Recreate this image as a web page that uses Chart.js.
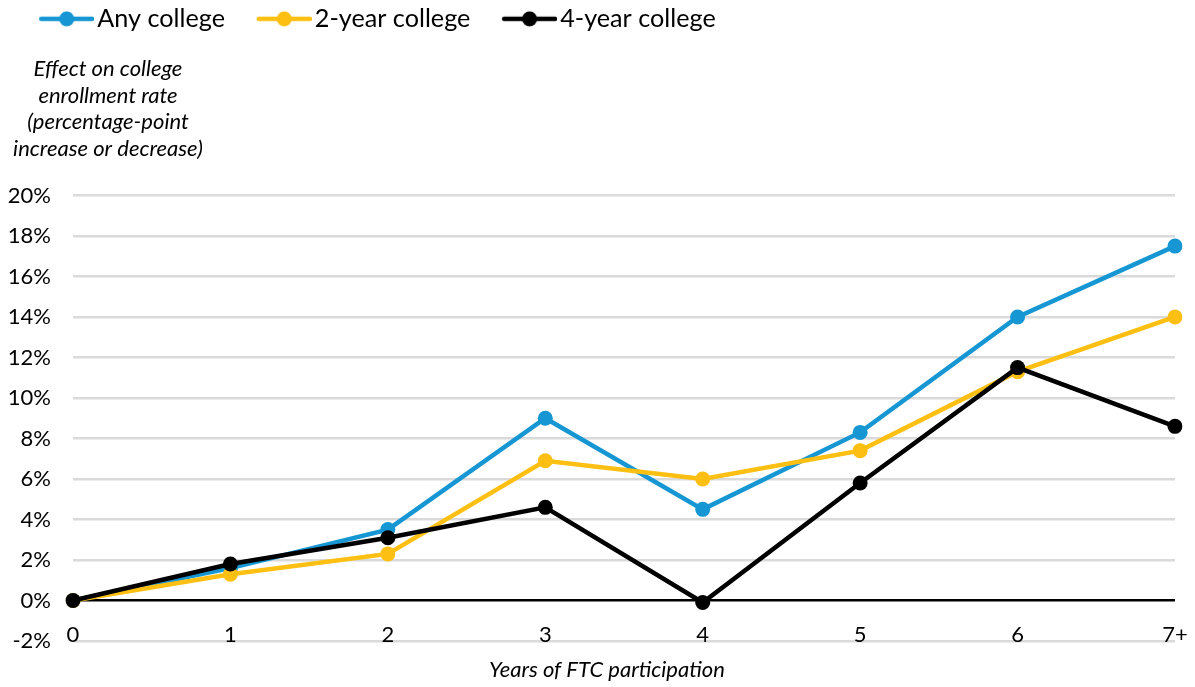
<!DOCTYPE html>
<html>
<head>
<meta charset="utf-8">
<script src="https://cdn.jsdelivr.net/npm/chart.js@4/dist/chart.umd.min.js"></script>
<style>
  html, body { margin: 0; padding: 0; background: #fff; }
  #wrap { width: 1195px; height: 687px; position: relative; }
</style>
</head>
<body>
<div id="wrap"><canvas id="c"></canvas></div>
<script>
const categories = ['0', '1', '2', '3', '4', '5', '6', '7+'];
const anyCollege = [0, 1.6, 3.5, 9.0, 4.5, 8.3, 14.0, 17.5];
const twoYear = [0, 1.3, 2.3, 6.9, 6.0, 7.4, 11.3, 14.0];
const fourYear = [0, 1.8, 3.1, 4.6, -0.1, 5.8, 11.5, 8.6];
const seriesNames = ['Any college', '2-year college', '4-year college'];
const seriesColors = ['#1696d2', '#fdbf11', '#000000'];
const yTicks = [-2, 0, 2, 4, 6, 8, 10, 12, 14, 16, 18, 20];
const yTitleLines = ['Effect on college', 'enrollment rate', '(percentage-point', 'increase or decrease)'];
const xTitle = 'Years of FTC participation';

const FONT = 'Lato, "Open Sans", sans-serif';

function legendIcon(color) {
  const c = document.createElement('canvas');
  const leftT = 35, lineLen = 55;
  c.width = leftT + lineLen; c.height = 18;
  const g = c.getContext('2d');
  g.strokeStyle = color; g.lineWidth = 4.5; g.lineCap = 'round';
  g.beginPath(); g.moveTo(leftT + 2, 9); g.lineTo(leftT + lineLen - 2, 9); g.stroke();
  g.fillStyle = color;
  g.beginPath(); g.arc(leftT + lineLen / 2, 9, 7.5, 0, Math.PI * 2); g.fill();
  return c;
}
const icons = seriesColors.map(legendIcon);

const titlesPlugin = {
  id: 'axisTitles',
  afterDraw(chart) {
    const ctx = chart.ctx;
    ctx.save();
    ctx.fillStyle = '#000';
    ctx.textAlign = 'center';
    ctx.textBaseline = 'alphabetic';
    ctx.font = 'italic 22px ' + FONT;
    yTitleLines.forEach((t, i) => ctx.fillText(t, 108, 76 + i * 26.5));
    ctx.fillText(xTitle, 607, 677);
    ctx.restore();
  }
};

const datasets = [anyCollege, twoYear, fourYear].map((d, i) => ({
  label: seriesNames[i],
  data: d,
  borderColor: seriesColors[i],
  backgroundColor: seriesColors[i],
  pointBackgroundColor: seriesColors[i],
  pointBorderWidth: 0,
  pointRadius: 7.5,
  pointHoverRadius: 7.5,
  borderWidth: 4.5,
  tension: 0,
  order: 3 - i,
  pointStyle: 'circle'
}));

new Chart(document.getElementById('c'), {
  type: 'line',
  data: { labels: categories, datasets },
  plugins: [titlesPlugin],
  options: {
    responsive: true,
    maintainAspectRatio: false,
    animation: false,
    layout: { padding: { left: 7.5, right: 20, top: 0, bottom: 46 } },
    plugins: {
      tooltip: { enabled: false },
      legend: {
        position: 'top',
        align: 'start',
        weight: 1000,
        labels: {
          usePointStyle: true,
          pointStyleWidth: 71,
          padding: 6.25,
          color: '#000',
          font: { family: FONT, size: 25.2 },
          generateLabels(chart) {
            return chart.data.datasets.map((ds, i) => ({
              text: ds.label,
              pointStyle: icons[i],
              fillStyle: ds.borderColor,
              strokeStyle: ds.borderColor,
              lineWidth: 0,
              hidden: false,
              datasetIndex: i,
              fontColor: '#000'
            }));
          }
        }
      },
      title: {
        display: true,
        text: ' ',
        weight: 500,
        color: 'rgba(0,0,0,0)',
        font: { size: 10, lineHeight: 1 },
        padding: { top: 144, bottom: 0 }
      }
    },
    scales: {
      x: {
        type: 'category',
        offset: false,
        position: { y: 0 },
        grid: { display: false, drawTicks: false },
        border: { display: false },
        afterFit(scale) { scale.paddingRight = 0; scale.paddingLeft = 0; },
        ticks: { color: '#000', font: { family: FONT, size: 22 }, padding: 21, maxRotation: 0, autoSkip: false }
      },
      y: {
        min: -2, max: 20,
        afterBuildTicks(scale) { scale.ticks = yTicks.map(v => ({ value: v })); },
        afterFit(scale) { scale.width = 65.5; },
        grid: {
          drawTicks: false,
          color: c => (c.tick && c.tick.value === 0) ? '#000000' : '#dadada',
          lineWidth: 2.5
        },
        border: { display: false },
        ticks: {
          color: '#000', font: { family: FONT, size: 22 }, padding: 22,
          callback: v => v + '%'
        }
      }
    }
  }
});
</script>
</body>
</html>
